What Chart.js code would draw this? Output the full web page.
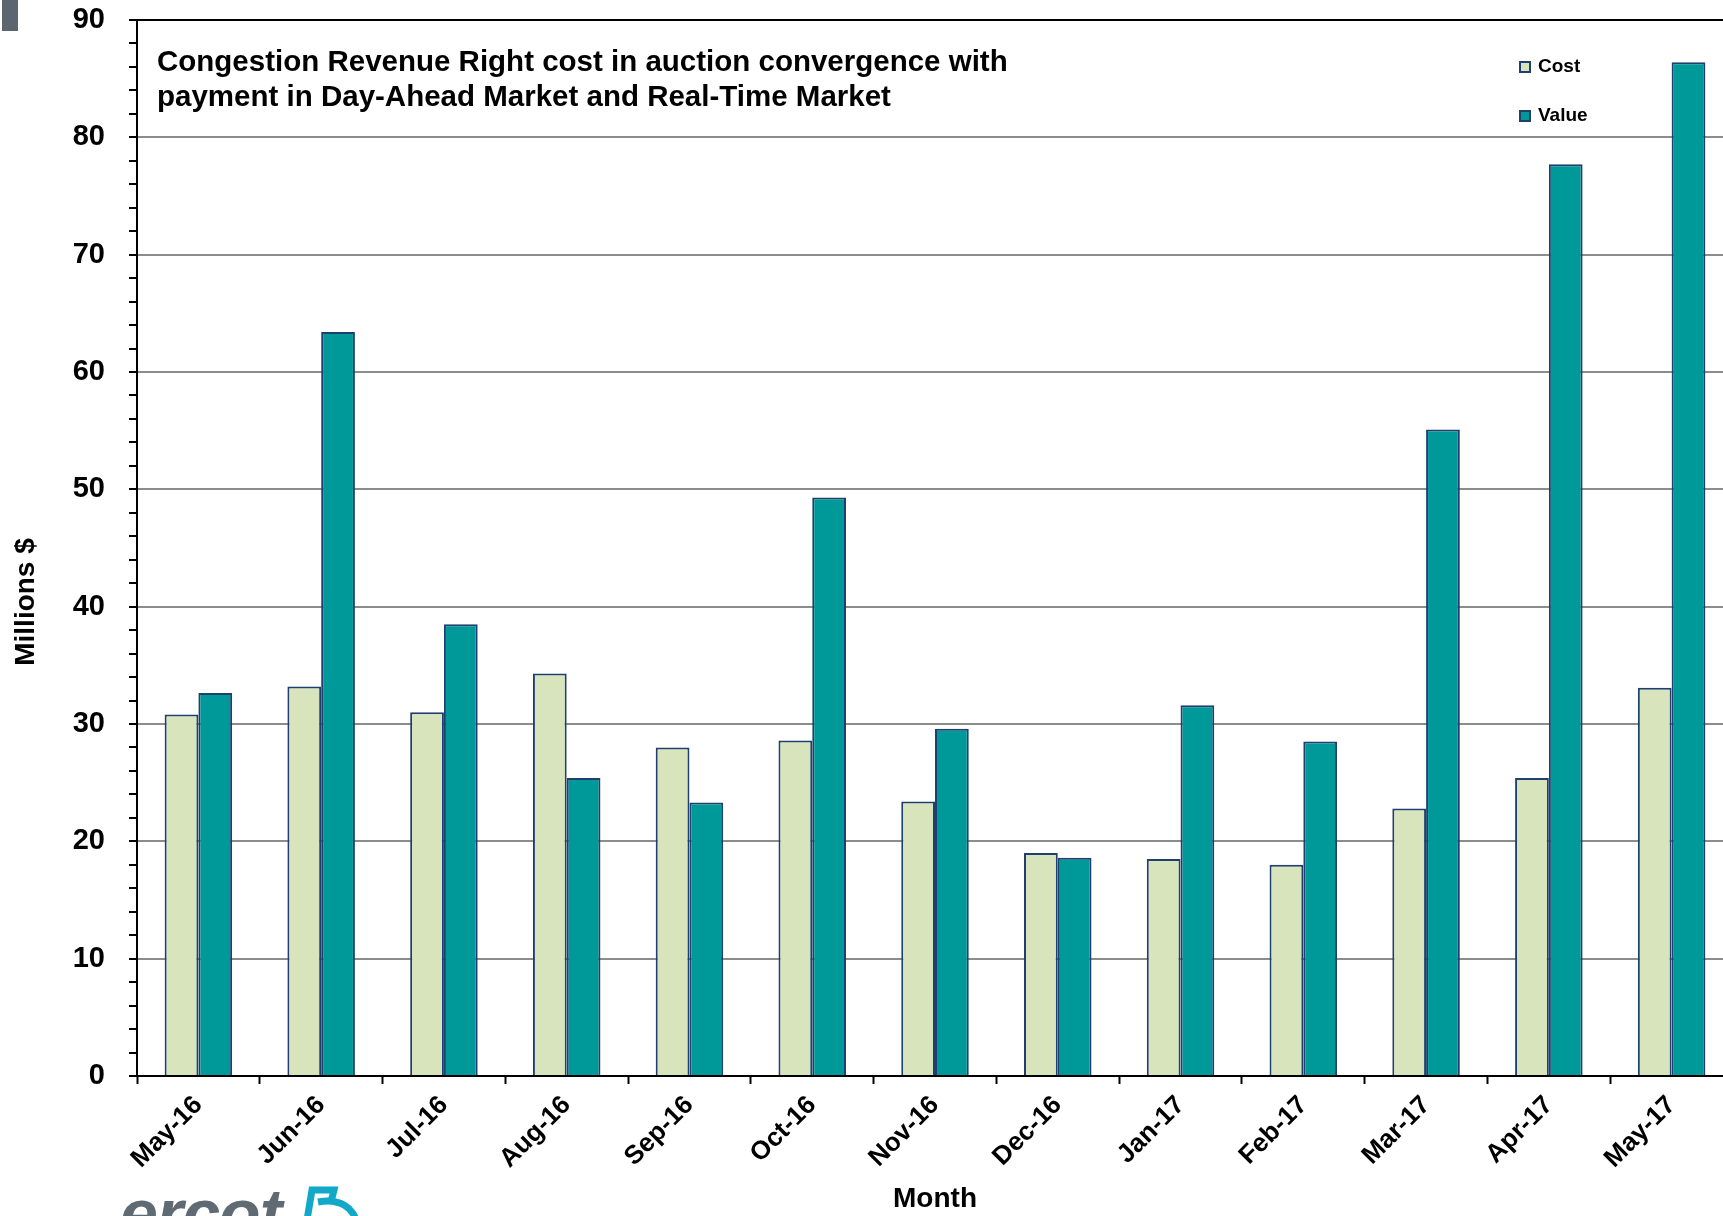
<!DOCTYPE html>
<html>
<head>
<meta charset="utf-8">
<script src="https://cdn.jsdelivr.net/npm/chart.js@4/dist/chart.umd.min.js"></script>
<style>
    html, body { margin: 0; padding: 0; background: #fff; overflow: hidden; }
    #wrap { position: relative; width: 1723px; height: 1216px; overflow: hidden; }
    #chart { position: absolute; left: 0; top: 0; }
    #corner { position: absolute; left: 2px; top: 0; width: 16px; height: 31px; background: #5c6670; }
    #logo { position: absolute; left: 120px; top: 1174px; font: italic bold 68px "Liberation Sans", Arial, sans-serif; color: #5f6a72; letter-spacing: -1px; }
    #mark { position: absolute; left: 298px; top: 1186px; }
</style>
</head>
<body>
<div id="wrap">
    <canvas id="chart" width="1736" height="1216" style="width:1736px;height:1216px"></canvas>
    <div id="corner"></div>
    <div id="logo">ercot</div>
    <svg id="mark" width="70" height="40">
        <path d="M8 40 L14 4 L36 4 L33 16 M20 16 C40 12 56 20 60 40" fill="none" stroke="#12a8c8" stroke-width="7"/>
    </svg>
</div>
<script>
const months = ['May-16', 'Jun-16', 'Jul-16', 'Aug-16', 'Sep-16', 'Oct-16', 'Nov-16',
    'Dec-16', 'Jan-17', 'Feb-17', 'Mar-17', 'Apr-17', 'May-17'];
const costValues = [30.8, 33.2, 31.0, 34.3, 28.0, 28.6, 23.4, 19.0, 18.5, 18.0, 22.8, 25.4, 33.1];
const payValues = [32.65, 63.4, 38.5, 25.4, 23.3, 49.3, 29.6, 18.6, 31.6, 28.5, 55.1, 77.7, 86.4];
const titleLines = ['Congestion Revenue Right cost in auction convergence with',
    'payment in Day-Ahead Market and Real-Time Market'];

const FONT = '"Liberation Sans", Arial, sans-serif';
const EDGE = '#1f3f6e';

// Title, legend and y-axis caption drawn by hand
const overlay = {
    id: 'overlay',
    afterDraw(chart) {
        const { ctx, chartArea } = chart;
        ctx.save();
        ctx.fillStyle = '#000';
        ctx.font = `bold 29.5px ${FONT}`;
        ctx.textBaseline = 'middle';
        titleLines.forEach((line, i) => ctx.fillText(line, chartArea.left + 20, chartArea.top + 43 + i * 35));

        const items = chart.data.datasets;
        ctx.font = `bold 19px ${FONT}`;
        items.forEach((ds, i) => {
            const x = chartArea.right - 213;
            const y = chartArea.top + 47 + i * 49;
            ctx.fillStyle = ds.backgroundColor;
            ctx.fillRect(x, y - 5, 10, 10);
            ctx.strokeStyle = EDGE;
            ctx.lineWidth = 2;
            ctx.strokeRect(x, y - 5, 10, 10);
            ctx.fillStyle = '#000';
            ctx.fillText(ds.label, x + 18, y);
        });

        ctx.translate(26, 602);
        ctx.rotate(-Math.PI / 2);
        ctx.textAlign = 'center';
        ctx.font = `bold 28px ${FONT}`;
        ctx.fillText('Millions $', 0, 0);
        ctx.restore();
    },
};

new Chart(document.getElementById('chart'), {
    type: 'bar',
    data: {
        labels: months,
        datasets: [
            {
                label: 'Cost',
                data: costValues,
                backgroundColor: '#d8e4bc',
                borderColor: EDGE,
                borderWidth: 2,
            },
            {
                label: 'Value',
                data: payValues,
                backgroundColor: '#009999',
                borderColor: EDGE,
                borderWidth: 2,
            },
        ],
    },
    options: {
        responsive: false,
        animation: false,
        layout: { padding: { top: 20, right: 3, left: 0, bottom: 0 } },
        categoryPercentage: 0.55,
        barPercentage: 1,
        plugins: { legend: { display: false }, tooltip: { enabled: false } },
        scales: {
            x: {
                afterFit: s => { s.height = 140; },
                grid: { offset: true, drawOnChartArea: false, tickLength: 8, tickColor: '#000', tickWidth: 2 },
                border: { color: '#000', width: 2 },
                ticks: {
                    color: '#000',
                    font: { family: FONT, size: 26, weight: 'bold' },
                    maxRotation: 45,
                    minRotation: 45,
                    padding: 6,
                },
                title: {
                    display: true,
                    text: 'Month',
                    color: '#000',
                    font: { family: FONT, size: 28, weight: 'bold' },
                    padding: { top: 0, bottom: 0 },
                },
            },
            y: {
                min: 0,
                max: 90,
                afterFit: s => {
                    s.width = 137;
                    s.paddingTop = 0;
                    s.paddingBottom = 0;
                },
                border: { color: '#000', width: 2 },
                grid: {
                    color: c => c.tick.value === 90 ? '#000' : (c.tick.value % 10 === 0 ? '#8c8c8c' : 'rgba(0,0,0,0)'),
                    lineWidth: 2,
                    tickColor: '#000',
                    tickLength: 8,
                    tickWidth: 2,
                },
                ticks: {
                    stepSize: 2,
                    autoSkip: false,
                    color: '#000',
                    padding: 24,
                    font: { family: FONT, size: 29, weight: 'bold' },
                    callback: v => v % 10 === 0 ? v : '',
                },
            },
        },
    },
    plugins: [overlay],
});
</script>
</body>
</html>
